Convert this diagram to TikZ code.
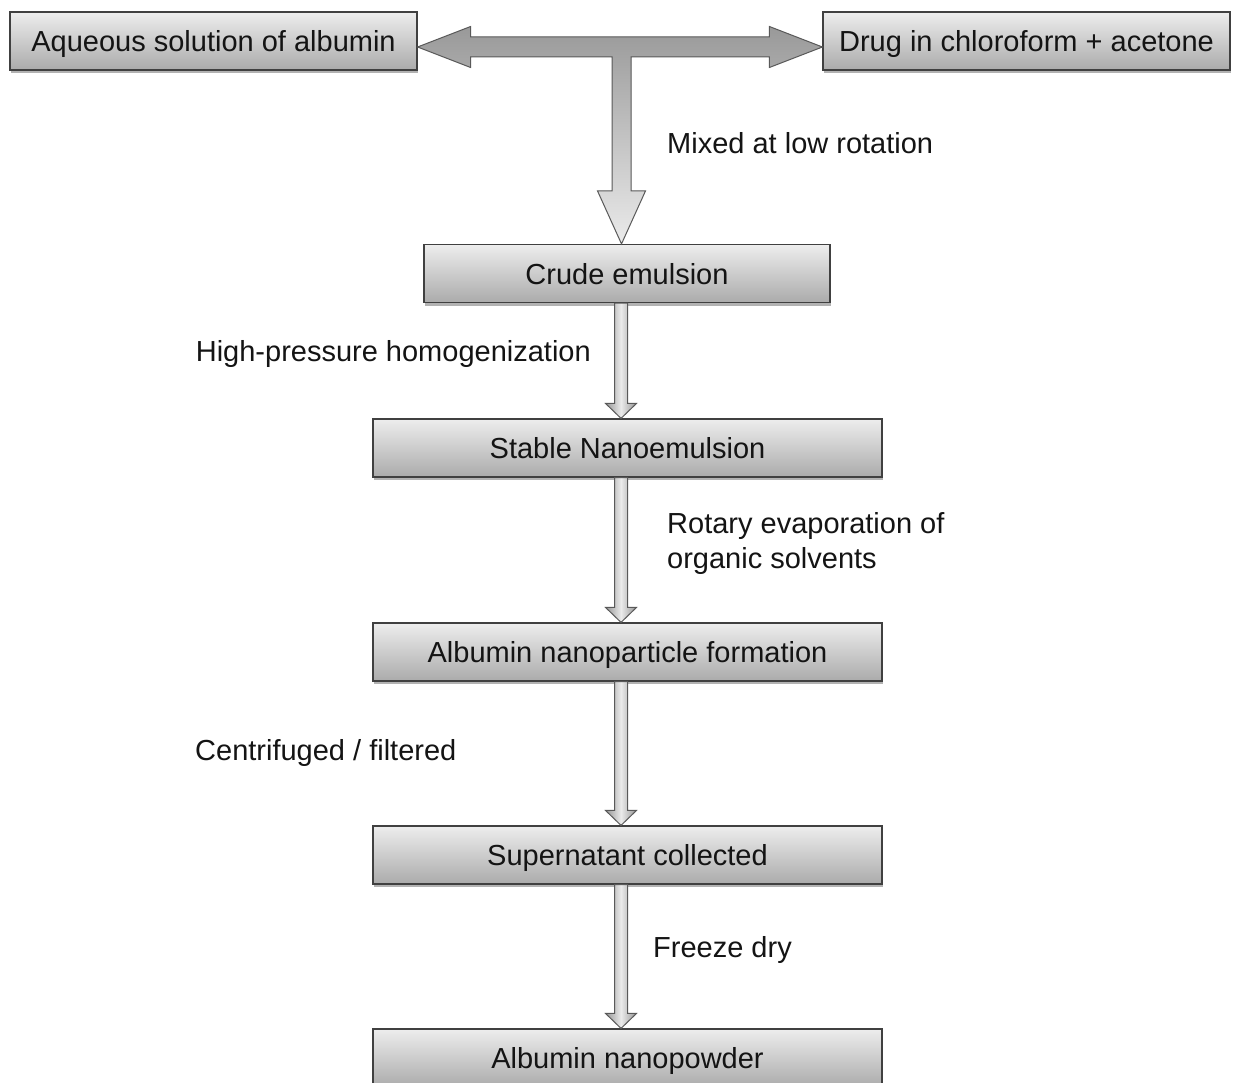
\documentclass[tikz,border=0pt]{standalone}
\usepackage{fontspec}
\setmainfont{Liberation Sans}
\usetikzlibrary{calc,shadows}
\tikzset{
  box/.style={draw=black!75, line width=1.2pt, top color=black!7, bottom color=black!33,
    minimum height=58pt, text=black!92, font=\fontsize{29}{33}\selectfont, inner sep=0pt,
    text height=22pt, text depth=1pt,
    drop shadow={shadow xshift=1pt, shadow yshift=-3pt, opacity=0.3, fill=black}},
  lbl/.style={font=\fontsize{29}{35}\selectfont, text=black!92, inner sep=0pt, align=left},
  barrow/.style={draw=black!65, line width=1pt, left color=black!42, right color=black!42, middle color=black!8},
  tarrow/.style={draw=black!65, line width=1pt, top color=black!40, bottom color=black!8},
}
\newcommand\vblock[2]{%
  \path[barrow] let \p1=(#1), \p2=(#2) in
    (\x1-6.5pt,\y1) -- (\x1+6.5pt,\y1) -- (\x1+6.5pt,\y2+15pt) -- (\x1+15.5pt,\y2+15pt)
    -- (\x1,\y2) -- (\x1-15.5pt,\y2+15pt) -- (\x1-6.5pt,\y2+15pt) -- cycle;}
\begin{document}
\begin{tikzpicture}[x=1pt,y=-1pt]
\useasboundingbox (0,0) rectangle (1233,1083);
\fill[white] (0,0) rectangle (1233,1083);

\node[box, minimum width=407pt] (aq) at (213.5,41) {Aqueous solution of albumin};
\node[box, minimum width=407pt] (drug) at (1026.5,41) {Drug in chloroform + acetone};
\node[box, minimum width=406pt] (crude) at (627,273.5) {Crude emulsion};
\node[box, minimum width=509pt] (stable) at (627.5,448) {Stable Nanoemulsion};
\node[box, minimum width=509pt] (anp) at (627.5,652) {Albumin nanoparticle formation};
\node[box, minimum width=509pt] (super) at (627.5,855) {Supernatant collected};
\node[box, minimum width=509pt] (powder) at (627.5,1058) {Albumin nanopowder};

% T-shaped block arrow
\path[tarrow] let \p1=(aq.east), \p2=(drug.west), \p3=(crude.north),
    \p4=($(crude.north)+(-5.5,0)$), \p5=($(aq.east)+(0,6)$) in
  (\x1,\y5) -- (\x1+53pt,\y5+20.5pt) -- (\x1+53pt,\y5+10pt) -- (\x2-53pt,\y5+10pt)
  -- (\x2-53pt,\y5+20.5pt) -- (\x2,\y5) -- (\x2-53pt,\y5-20.5pt) -- (\x2-53pt,\y5-10pt)
  -- (\x4+9.5pt,\y5-10pt) -- (\x4+9.5pt,\y3+53pt) -- (\x4+24pt,\y3+53pt) -- (\x4,\y3)
  -- (\x4-24pt,\y3+53pt) -- (\x4-9.5pt,\y3+53pt) -- (\x4-9.5pt,\y5-10pt)
  -- (\x1+53pt,\y5-10pt) -- (\x1+53pt,\y5-20.5pt) -- cycle;

\coordinate (a1) at ($(crude.south)+(-6,0)$);
\coordinate (b1) at ($(stable.north)+(-6.5,0)$);
\coordinate (a2) at ($(stable.south)+(-6.5,0)$);
\coordinate (b2) at ($(anp.north)+(-6.5,0)$);
\coordinate (a3) at ($(anp.south)+(-6.5,0)$);
\coordinate (b3) at ($(super.north)+(-6.5,0)$);
\coordinate (a4) at ($(super.south)+(-6.5,0)$);
\coordinate (b4) at ($(powder.north)+(-6.5,0)$);
\vblock{a1}{b1}
\vblock{a2}{b2}
\vblock{a3}{b3}
\vblock{a4}{b4}

\node[lbl, anchor=west] (l1) at (667,143) {Mixed at low rotation};
\node[lbl, anchor=east] (l2) at (591,354) {High-pressure homogenization};
\node[lbl, anchor=west] (l3) at (667,543) {Rotary evaporation of\\organic solvents};
\node[lbl, anchor=west] (l4) at (195,753) {Centrifuged / filtered};
\node[lbl, anchor=west] (l5) at (653,950) {Freeze dry};
\end{tikzpicture}
\end{document}
